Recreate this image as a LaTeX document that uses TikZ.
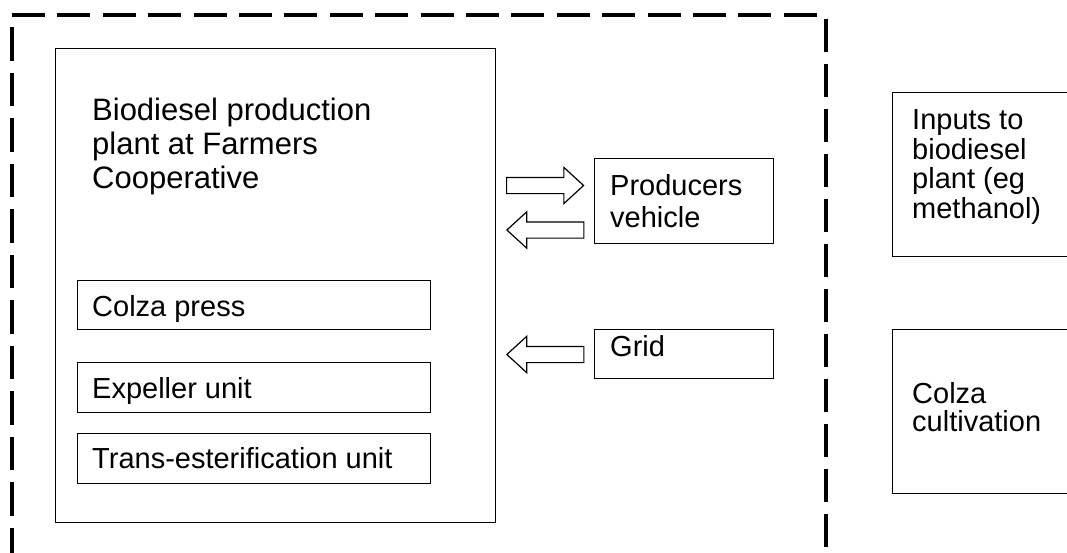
\documentclass[tikz,border=0pt]{standalone}
\usepackage{fontspec}
\setmainfont{Liberation Sans}
\usetikzlibrary{shapes.arrows}
\begin{document}
\begin{tikzpicture}[x=1pt,y=-1pt,
  box/.style={draw=black, line width=1.3pt, anchor=north west, inner sep=0pt},
  txt/.style={anchor=base west, inner sep=0pt, font=\fontsize{29}{30}\selectfont},
  blk/.style={single arrow, draw=black, line width=1.2pt, minimum height=77pt,
              single arrow head extend=10pt, single arrow tip angle=85, inner xsep=0pt, inner ysep=7.5pt},
  frameline/.style={line width=4pt, dash pattern=on 33pt off 12.4pt}]
\useasboundingbox (0,0) rectangle (1067,552);
\clip (0,0) rectangle (1067,552);
% dashed system boundary
\draw[frameline] (12,15) -- (817,15);
\draw[frameline, dash pattern=on 33.5pt off 12pt] (12,27) -- (12,570);
\draw[frameline, dash pattern=on 33pt off 12pt] (826,19) -- (826,570);
% boxes
\node[box, minimum width=440pt, minimum height=474pt] (plant) at (55,48) {};
\node[box, minimum width=353pt, minimum height=49pt] (press) at (77,280) {};
\node[box, minimum width=353pt, minimum height=50pt] (expeller) at (77,362) {};
\node[box, minimum width=353pt, minimum height=50pt] (trans) at (77,433) {};
\node[box, minimum width=179pt, minimum height=85pt] (vehicle) at (594,158) {};
\node[box, minimum width=179pt, minimum height=49pt] (grid) at (594,329) {};
\node[box, minimum width=200pt, minimum height=164pt] (inputs) at (892,92) {};
\node[box, minimum width=200pt, minimum height=164pt] (cultiv) at (892,329) {};
% texts
\node[txt, font=\fontsize{31}{34.3}\selectfont] (plantT) at (92,120)
  {\vtop{\hbox{Biodiesel production}\hbox{plant at Farmers}\hbox{Cooperative}}};
\node[txt] (pressT) at (92,316) {Colza press};
\node[txt] (expellerT) at (92,398) {Expeller unit};
\node[txt] (transT) at (92,468) {Trans-esterification unit};
\node[txt, font=\fontsize{29}{32}\selectfont] (vehicleT) at (610,195)
  {\vtop{\hbox{Producers}\hbox{vehicle}}};
\node[txt] (gridT) at (610,356) {Grid};
\node[txt, font=\fontsize{29}{29.5}\selectfont] (inputsT) at (912,129.5)
  {\vtop{\hbox{Inputs to}\hbox{biodiesel}\hbox{plant (eg}\hbox{methanol)}}};
\node[txt, font=\fontsize{29}{28.5}\selectfont] (cultivT) at (912,403.3)
  {\vtop{\hbox{Colza}\hbox{cultivation}}};
% block arrows
\node[blk, anchor=tail] (toVehicle) at (506,185.5) {};
\node[blk, shape border rotate=180, anchor=tip] (fromVehicle) at (506,230) {};
\node[blk, shape border rotate=180, anchor=tip] (fromGrid) at (506,354.5) {};
\end{tikzpicture}
\end{document}
